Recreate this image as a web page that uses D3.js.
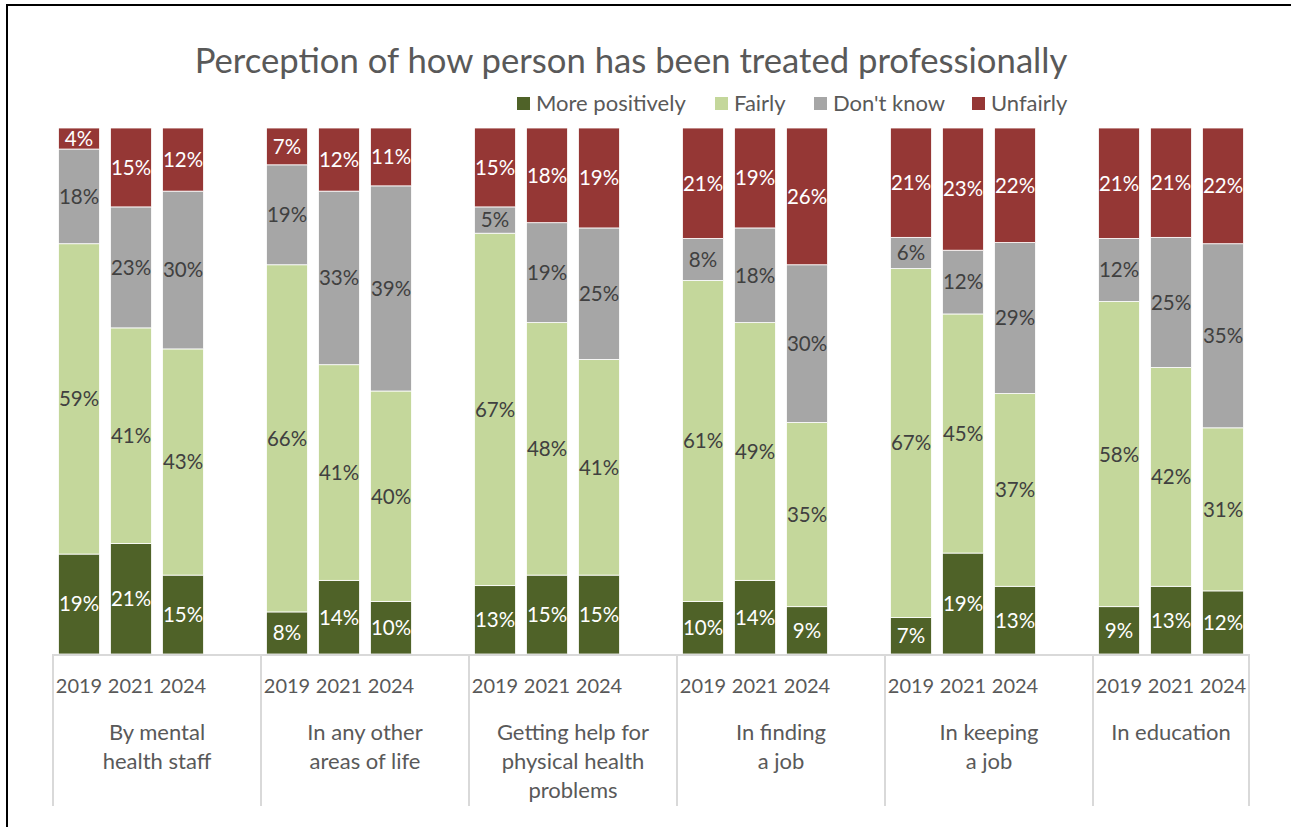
<!DOCTYPE html>
<html>
<head>
<meta charset="utf-8">
<script src="https://cdn.jsdelivr.net/npm/d3@7"></script>
<style>
  html, body { margin: 0; padding: 0; background: #fff; }
  svg { display: block; font-family: Lato, "Open Sans", sans-serif; }
</style>
</head>
<body>
<svg id="chart" width="1291" height="827"></svg>
<script>
// Survey areas (multi-line labels) and survey years
const categories = [
  ["By mental", "health staff"],
  ["In any other", "areas of life"],
  ["Getting help for", "physical health", "problems"],
  ["In finding", "a job"],
  ["In keeping", "a job"],
  ["In education"]
];
const years = ["2019", "2021", "2024"];
const seriesNames = ["More positively", "Fairly", "Don't know", "Unfairly"];
const seriesColors = ["#4f6228", "#c4d79b", "#a6a6a6", "#953735"];
const labelColors = ["#ffffff", "#404040", "#404040", "#ffffff"];

// Percentages per area, ordered 2019, 2021, 2024
const morePositively = [[19, 21, 15], [8, 14, 10], [13, 15, 15], [10, 14, 9], [7, 19, 13], [9, 13, 12]];
const fairly         = [[59, 41, 43], [66, 41, 40], [67, 48, 41], [61, 49, 35], [67, 45, 37], [58, 42, 31]];
const dontKnow       = [[18, 23, 30], [19, 33, 39], [5, 19, 25], [8, 18, 30], [6, 12, 29], [12, 25, 35]];
const unfairly       = [[4, 15, 12], [7, 12, 11], [15, 18, 19], [21, 19, 26], [21, 23, 22], [21, 21, 22]];

const title = "Perception of how person has been treated professionally";

// Flatten into one row per bar; a blank slot separates each area
const seriesArrays = [morePositively, fairly, dontKnow, unfairly];
const rows = [];
const slots = [];
categories.forEach((c, ci) => {
  years.forEach((y, yi) => {
    const key = ci + "-" + yi;
    const row = { key, cat: ci, year: y };
    seriesNames.forEach((s, si) => { row[s] = seriesArrays[si][ci][yi]; });
    rows.push(row);
    slots.push(key);
  });
  if (ci < categories.length - 1) slots.push("gap-" + ci);
});

const svg = d3.select("#chart");
const textGrey = "#595959";

// Frame lines
svg.append("path")
  .attr("d", "M7,827 V5 H1291")
  .attr("fill", "none").attr("stroke", "#000").attr("stroke-width", 2);

const x = d3.scaleBand().domain(slots).range([53, 1249]).paddingInner(0.21).paddingOuter(0.105);
const y = d3.scaleLinear().domain([0, 1]).range([654, 128]);

const stack = d3.stack().keys(seriesNames).offset(d3.stackOffsetExpand);
const stacked = stack(rows);

const layers = svg.append("g").selectAll("g")
  .data(stacked).join("g")
  .attr("fill", (d, i) => seriesColors[i]);

layers.selectAll("rect")
  .data(d => d)
  .join("rect")
  .attr("x", d => x(d.data.key))
  .attr("width", x.bandwidth())
  .attr("y", d => y(d[1]))
  .attr("height", d => y(d[0]) - y(d[1]))
  .attr("stroke", "#ffffff").attr("stroke-width", 0.8);

// Value labels centred in each segment
stacked.forEach((layer, si) => {
  svg.append("g").selectAll("text")
    .data(layer).join("text")
    .attr("x", d => x(d.data.key) + x.bandwidth() / 2)
    .attr("y", d => (y(d[0]) + y(d[1])) / 2)
    .attr("dy", "0.36em")
    .attr("text-anchor", "middle")
    .attr("font-size", 20.5)
    .attr("fill", labelColors[si])
    .text(d => d.data[seriesNames[si]] + "%");
});

// Category axis: baseline, group dividers, year and area labels
const axis = svg.append("g").attr("stroke", "#d9d9d9").attr("stroke-width", 2);
axis.append("line").attr("x1", 53).attr("x2", 1250).attr("y1", 655).attr("y2", 655);
const half = (x.step() - x.bandwidth()) / 2;
const groupEdges = categories.map((c, ci) => x(ci + "-0") - half);
groupEdges.push(x((categories.length - 1) + "-2") + x.bandwidth() + half);
groupEdges.forEach(e => {
  axis.append("line").attr("x1", e).attr("x2", e).attr("y1", 654).attr("y2", 806);
});

svg.append("g").selectAll("text")
  .data(rows).join("text")
  .attr("x", d => x(d.key) + x.bandwidth() / 2)
  .attr("y", 693)
  .attr("text-anchor", "middle")
  .attr("font-size", 20)
  .attr("fill", textGrey)
  .text(d => d.year);

categories.forEach((lines, ci) => {
  const cx = (groupEdges[ci] + groupEdges[ci + 1]) / 2;
  const t = svg.append("text")
    .attr("text-anchor", "middle")
    .attr("font-size", 22)
    .attr("fill", textGrey);
  lines.forEach((ln, li) => {
    t.append("tspan").attr("x", cx).attr("y", 740 + li * 29).text(ln);
  });
});

// Title, sized to span its width
const titleEl = svg.append("text")
  .attr("x", 631).attr("y", 73)
  .attr("text-anchor", "middle")
  .attr("fill", textGrey)
  .attr("font-size", 31)
  .text(title);
const tw = titleEl.node().getComputedTextLength();
titleEl.attr("font-size", 31 * 873 / tw);

// Legend
const legendX = [517, 715, 814, 972];
const legend = svg.append("g");
seriesNames.forEach((s, i) => {
  legend.append("rect")
    .attr("x", legendX[i]).attr("y", 97)
    .attr("width", 13).attr("height", 13)
    .attr("fill", seriesColors[i]);
  legend.append("text")
    .attr("x", legendX[i] + 19).attr("y", 111)
    .attr("font-size", 22)
    .attr("fill", textGrey)
    .text(s);
});
</script>
</body>
</html>
